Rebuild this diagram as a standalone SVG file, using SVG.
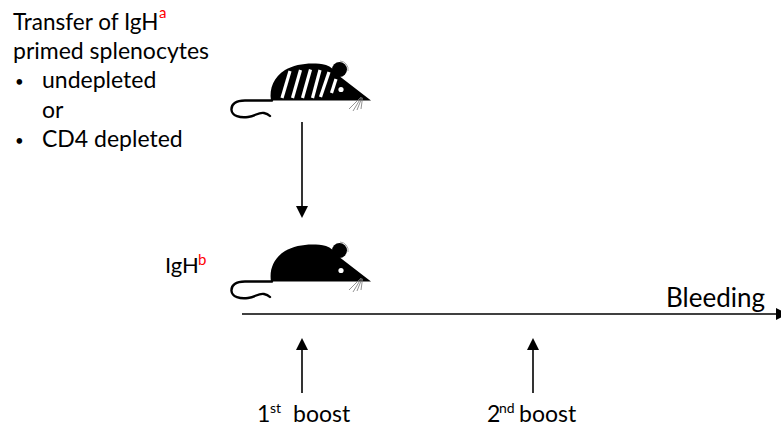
<svg xmlns="http://www.w3.org/2000/svg" xmlns:xlink="http://www.w3.org/1999/xlink" width="781" height="432" viewBox="0 0 781 432">
  <style>
    .t { font-family: Lato, "Liberation Sans", sans-serif; fill: #000; }
    .sup { font-family: Lato, "Liberation Sans", sans-serif; fill: #ff0000; }
    .conn { stroke: #000; stroke-width: 1.6; fill: none; }
    .body { fill: #000; }
    .tail { fill: none; stroke: #000; stroke-width: 2.4; stroke-linecap: round; }
    .whisker { stroke: #777; stroke-width: 0.8; fill: none; }
    .stripe { stroke: #fff; stroke-width: 3.2; stroke-linecap: butt; }
  </style>
  <defs>
    <marker id="head" markerUnits="userSpaceOnUse" markerWidth="12" markerHeight="12" refX="0" refY="6" orient="auto" overflow="visible">
      <path d="M0,0 L12,6 L0,12 Z" fill="#000"/>
    </marker>
    <!-- side view of a mouse: body, ear, eye, tail, whiskers -->
    <g id="mouse">
      <path class="tail" d="M272,100.5 L245,100.5 C236,100.5 231,104 231.5,110 C232,116 240,118 248,117 C256,116 258,112 264,113 C267,113.5 269,115 270,116"/>
      <path class="body" d="M271,100.5 C269,88 274,77 285,70 C296,63.5 313,62 326,65 C331,66.5 334,70 336,73.5 L371,100.5 Z"/>
      <circle class="body" cx="339.5" cy="69.5" r="7.5"/>
      <path d="M340,61 A8.5,8.5 0 0 1 348,71" stroke="#999" stroke-width="0.9" fill="none"/>
      <circle cx="341" cy="89.5" r="2.6" fill="#fff"/>
      <path class="whisker" d="M361,97 L349,109 M361.5,97 L353,111 M362,97.5 L357,110 M362.5,98 L361,109"/>
    </g>
  </defs>

  <!-- donor: striped mouse -->
  <g id="mouse-donor">
    <use xlink:href="#mouse"/>
    <line class="stripe" x1="290" y1="71" x2="282" y2="98"/>
    <line class="stripe" x1="300.5" y1="70" x2="292.5" y2="98"/>
    <line class="stripe" x1="310.5" y1="69.5" x2="302.5" y2="98"/>
    <line class="stripe" x1="320" y1="70" x2="312.5" y2="98"/>
    <line class="stripe" x1="329" y1="72" x2="320.5" y2="97"/>
    <line class="stripe" x1="336" y1="79" x2="331.5" y2="93"/>
  </g>

  <!-- recipient: plain mouse -->
  <g id="mouse-recipient">
    <use xlink:href="#mouse" transform="translate(0,181)"/>
  </g>

  <g id="label-transfer">
    <text class="t" font-size="22.5" x="13" y="30">Transfer of IgH</text>
    <text class="sup" font-size="15" x="159" y="18">a</text>
    <text class="t" font-size="23" x="13" y="59">primed splenocytes</text>
    <text class="t" font-size="15" x="15" y="87">•</text>
    <text class="t" font-size="23" x="42" y="88">undepleted</text>
    <text class="t" font-size="23" x="42" y="118">or</text>
    <text class="t" font-size="15" x="15" y="146">•</text>
    <text class="t" font-size="23" x="42" y="147">CD4 depleted</text>
  </g>

  <g id="label-igh-b">
    <text class="t" font-size="22" x="165" y="273">IgH</text>
    <text class="sup" font-size="15" x="198" y="265">b</text>
  </g>

  <g id="label-bleeding">
    <text class="t" font-size="26" x="666" y="307">Bleeding</text>
  </g>

  <g id="label-boost1">
    <text class="t" font-size="23" x="257" y="422">1</text>
    <text class="t" font-size="14" x="270" y="413">st</text>
    <text class="t" font-size="23" x="293" y="422">boost</text>
  </g>

  <g id="label-boost2">
    <text class="t" font-size="23" x="487" y="422">2</text>
    <text class="t" font-size="14" x="499" y="413">nd</text>
    <text class="t" font-size="23" x="519" y="422">boost</text>
  </g>

  <g id="connectors">
    <line class="conn" x1="302" y1="122" x2="302" y2="206" marker-end="url(#head)"/>
    <line class="conn" x1="242" y1="314" x2="776" y2="314" stroke-width="2" marker-end="url(#head)"/>
    <line class="conn" x1="302" y1="393" x2="302" y2="350" marker-end="url(#head)"/>
    <line class="conn" x1="533" y1="393" x2="533" y2="350" marker-end="url(#head)"/>
  </g>
</svg>
